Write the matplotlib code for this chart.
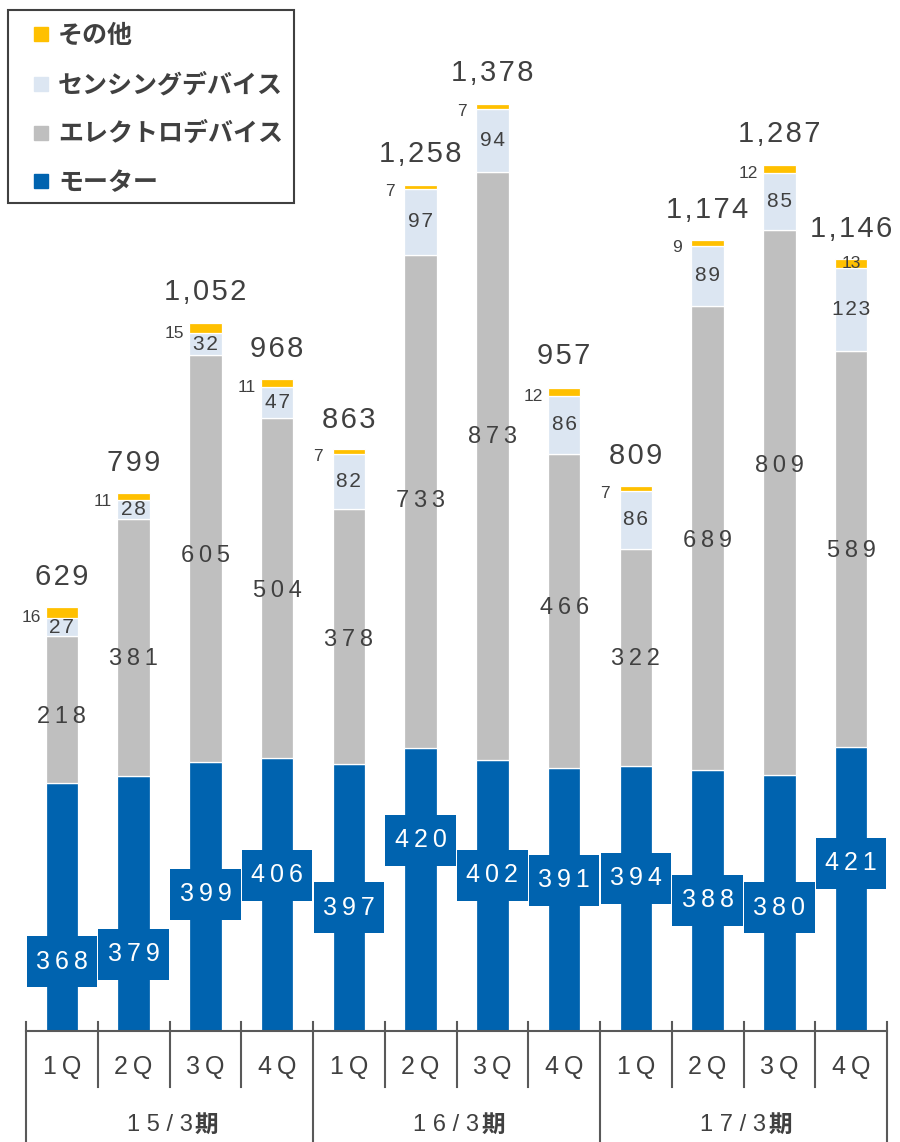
import numpy as np
import matplotlib.pyplot as plt
from matplotlib.lines import Line2D
from matplotlib.patches import Rectangle

#%% Data (億円, quarterly)
quarters = ['1Q', '2Q', '3Q', '4Q'] * 3
periods = ['15/3', '16/3', '17/3']

motor = [368, 379, 399, 406, 397, 420, 402, 391, 394, 388, 380, 421]
electro = [218, 381, 605, 504, 378, 733, 873, 466, 322, 689, 809, 589]
sensing = [27, 28, 32, 47, 82, 97, 94, 86, 86, 89, 85, 123]
other = [16, 11, 15, 11, 7, 7, 7, 12, 7, 9, 12, 13]
totals = [629, 799, 1052, 968, 863, 1258, 1378, 957, 809, 1174, 1287, 1146]

names = ['モーター', 'エレクトロデバイス', 'センシングデバイス', 'その他']
colors = ['#0063AF', '#BFBFBF', '#DCE6F2', '#FFC000']

# where the labels sit (value units), as placed in the original slide
motor_label_y = [103, 114, 203, 231, 183, 283, 231, 224, 227, 194, 183, 249]
electro_label_shift = [-11, -17, 4, -5, -5, 0, 44, 4, -3, -5, 55, -2]

txt = '#404040'
num_font = ['Liberation Sans', 'DejaVu Sans']
jp_font = ['Noto Sans CJK JP', 'DejaVu Sans']


def spaced(s, ch='\u2009'):
    return ch.join(str(s))


#%% Plot
fig = plt.figure(figsize=(9, 11.42), dpi=100)
ax = fig.add_axes([26 / 900, 111 / 1142, 861 / 900, 1031 / 1142])

x = np.arange(len(motor))
w = 0.455
series = [motor, electro, sensing, other]
bottom = np.zeros(len(x))
for vals, c in zip(series, colors):
    ax.bar(x, vals, w, bottom=bottom, color=c, edgecolor='white', linewidth=0.9, zorder=2)
    bottom += np.array(vals)

ax.set_xlim(-0.5, 11.5)
ax.set_ylim(0, 1531)
for s in ['top', 'left', 'right']:
    ax.spines[s].set_visible(False)
ax.spines['bottom'].set_color('#595959')
ax.spines['bottom'].set_linewidth(1.5)
ax.set_xticks([])
ax.set_yticks([])

for i in x:
    m, e, s, o = motor[i], electro[i], sensing[i], other[i]
    # motor label in blue box
    yl = motor_label_y[i]
    ax.add_patch(Rectangle((i - 0.49, yl - 38), 0.98, 76, facecolor=colors[0],
                           edgecolor='none', zorder=3))
    ax.text(i, yl, spaced(m), ha='center', va='center', color='white',
            fontsize=18, family=num_font, zorder=4)
    # electro
    ax.text(i, m + e / 2 + electro_label_shift[i], spaced(e), ha='center', va='center',
            color=txt, fontsize=17, family=num_font, zorder=4)
    # sensing
    ax.text(i, m + e + s / 2, spaced(s, '\u200a'), ha='center', va='center',
            color=txt, fontsize=15, family=num_font, zorder=4)
    # other
    yo = m + e + s + o / 2
    if i == 11:
        ax.text(i, yo, str(o), ha='center', va='center', color=txt,
                fontsize=12.5, family=num_font, zorder=4)
    else:
        ax.annotate(str(o), (i - 0.43, yo), xytext=(0, -3.5), textcoords='offset points',
                    ha='center', va='center', color=txt, fontsize=12.5, family=num_font)
    # total
    ax.annotate(spaced(f'{totals[i]:,}', '\u200a'), (i, totals[i]), xytext=(0, 16),
                textcoords='offset points', ha='center', va='baseline',
                color=txt, fontsize=21, family=num_font)

#%% Category axis
tr = ax.get_xaxis_transform()
for k in range(13):
    xb = k - 0.5
    ylo = -0.1077 if k % 4 == 0 else -0.0543
    ax.plot([xb, xb], [0.0087, ylo], color='#595959', lw=1.5, transform=tr, clip_on=False)

for i, q in enumerate(quarters):
    ax.text(i, -0.0349, spaced(q), transform=tr, ha='center', va='center',
            color=txt, fontsize=18, family=num_font)

for g, p in enumerate(periods):
    c = 4 * g + 1.5
    ax.text(c + 0.32, -0.0912, ' '.join(p), transform=tr, ha='right', va='center',
            color=txt, fontsize=17, family=num_font)
    ax.text(c + 0.35, -0.0912, '期', transform=tr, ha='left', va='center',
            color=txt, fontsize=17, family=jp_font, weight='bold')

#%% Legend (frame drawn separately so the entries can sit like the original)
fig.patches.append(Rectangle((8 / 900, 1 - 203 / 1142), 286 / 900, 193 / 1142,
                             transform=fig.transFigure, fill=False,
                             edgecolor='#404040', linewidth=1.5))
handles = [Line2D([], [], linestyle='none', marker='s', markersize=10.5,
                  markerfacecolor=c, markeredgecolor=c) for c in colors]
leg = fig.legend(handles[::-1], names[::-1], loc='upper left',
                 bbox_to_anchor=(33 / 900, 1 - 24 / 1142), bbox_transform=fig.transFigure,
                 borderaxespad=0, borderpad=0, frameon=False,
                 handlelength=0.6, handletextpad=0.4, labelspacing=0.99,
                 prop={'family': jp_font, 'weight': 'bold', 'size': 18})
for t in leg.get_texts():
    t.set_color(txt)

plt.savefig('out.png', dpi=100)
